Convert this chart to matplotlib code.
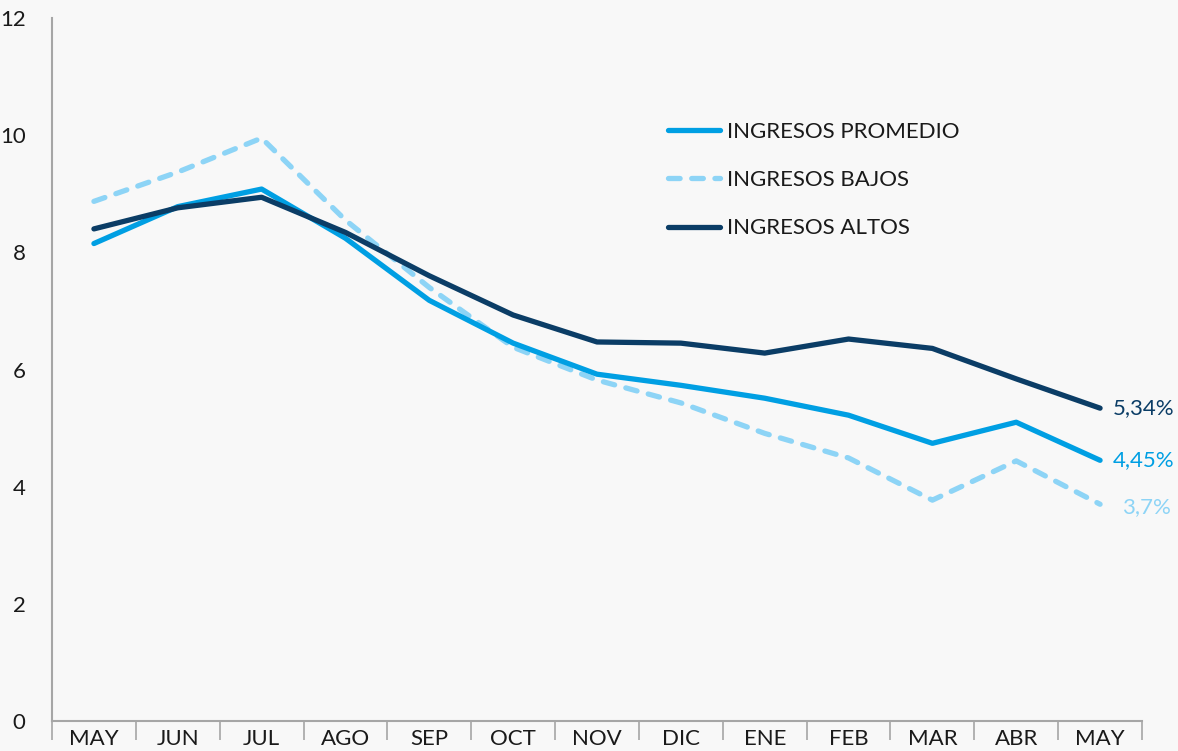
import matplotlib
matplotlib.use("Agg")
import matplotlib.pyplot as plt
from matplotlib.ticker import FixedLocator, NullFormatter

plt.rcParams['font.family'] = ['Lato', 'DejaVu Sans']

months = ["MAY", "JUN", "JUL", "AGO", "SEP", "OCT", "NOV", "DIC", "ENE", "FEB", "MAR", "ABR", "MAY"]
promedio = [8.15, 8.78, 9.08, 8.24, 7.18, 6.45, 5.92, 5.73, 5.51, 5.22, 4.74, 5.10, 4.45]
bajos = [8.87, 9.37, 9.95, 8.55, 7.40, 6.38, 5.82, 5.43, 4.91, 4.49, 3.77, 4.44, 3.70]
altos = [8.40, 8.76, 8.94, 8.34, 7.60, 6.93, 6.47, 6.45, 6.28, 6.52, 6.36, 5.84, 5.34]
end_labels = ["4,45%", "3,7%", "5,34%"]
y_ticks = [0, 2, 4, 6, 8, 10, 12]

c_prom = "#009FE3"
c_bajo = "#8DD4F6"
c_alto = "#0B3D66"
bg = "#F8F8F8"
axis_c = "#A6A6A6"

fig = plt.figure(figsize=(11.78, 7.51), dpi=100, facecolor=bg)
ax = fig.add_axes([52/1178, 30/751, (1142-52)/1178, (721-18)/751], facecolor=bg)

x = list(range(len(months)))
ax.plot(x, promedio, color=c_prom, lw=3.8, solid_capstyle='round', solid_joinstyle='round',
        label="INGRESOS PROMEDIO", zorder=3)
ax.plot(x, bajos, color=c_bajo, lw=3.8, dash_capstyle='round', dash_joinstyle='round',
        dashes=(2.2, 2.2), label="INGRESOS BAJOS", zorder=2)
ax.plot(x, altos, color=c_alto, lw=3.8, solid_capstyle='round', solid_joinstyle='round',
        label="INGRESOS ALTOS", zorder=4)

fs = 16
ax.annotate(end_labels[2], (x[-1], altos[-1]), xytext=(9, 0), textcoords='offset points',
            color=c_alto, fontsize=fs, va='center', ha='left', annotation_clip=False)
ax.annotate(end_labels[0], (x[-1], promedio[-1]), xytext=(9, 0), textcoords='offset points',
            color=c_prom, fontsize=fs, va='center', ha='left', annotation_clip=False)
ax.annotate(end_labels[1], (x[-1], bajos[-1]), xytext=(16, -2), textcoords='offset points',
            color=c_bajo, fontsize=fs, va='center', ha='left', annotation_clip=False)

ax.set_xlim(-0.5, len(months) - 0.5)
ax.set_ylim(0, 12)
ax.set_yticks(y_ticks)
ax.set_yticklabels([str(v) for v in y_ticks], fontsize=fs, color="#1a1a1a")
ax.tick_params(axis='y', length=0, pad=19)

ax.xaxis.set_major_locator(FixedLocator([i - 0.5 for i in range(len(months) + 1)]))
ax.xaxis.set_major_formatter(NullFormatter())
ax.xaxis.set_minor_locator(FixedLocator(x))
ax.set_xticklabels(months, minor=True, fontsize=fs, color="#1a1a1a")
ax.tick_params(axis='x', which='major', length=14, width=1.2, color=axis_c, direction='out')
ax.tick_params(axis='x', which='minor', length=0, pad=6)

for s in ['top', 'right']:
    ax.spines[s].set_visible(False)
for s in ['left', 'bottom']:
    ax.spines[s].set_color(axis_c)
    ax.spines[s].set_linewidth(1.5)

leg = ax.legend(loc='upper left', bbox_to_anchor=(616/1090, (721-122)/703), frameon=False,
                fontsize=fs, handlelength=2.34, handletextpad=0.32, labelspacing=1.27,
                borderaxespad=0, borderpad=0)
for t in leg.get_texts():
    t.set_color("#1a1a1a")

fig.savefig("out.png", dpi=100, facecolor=bg)
